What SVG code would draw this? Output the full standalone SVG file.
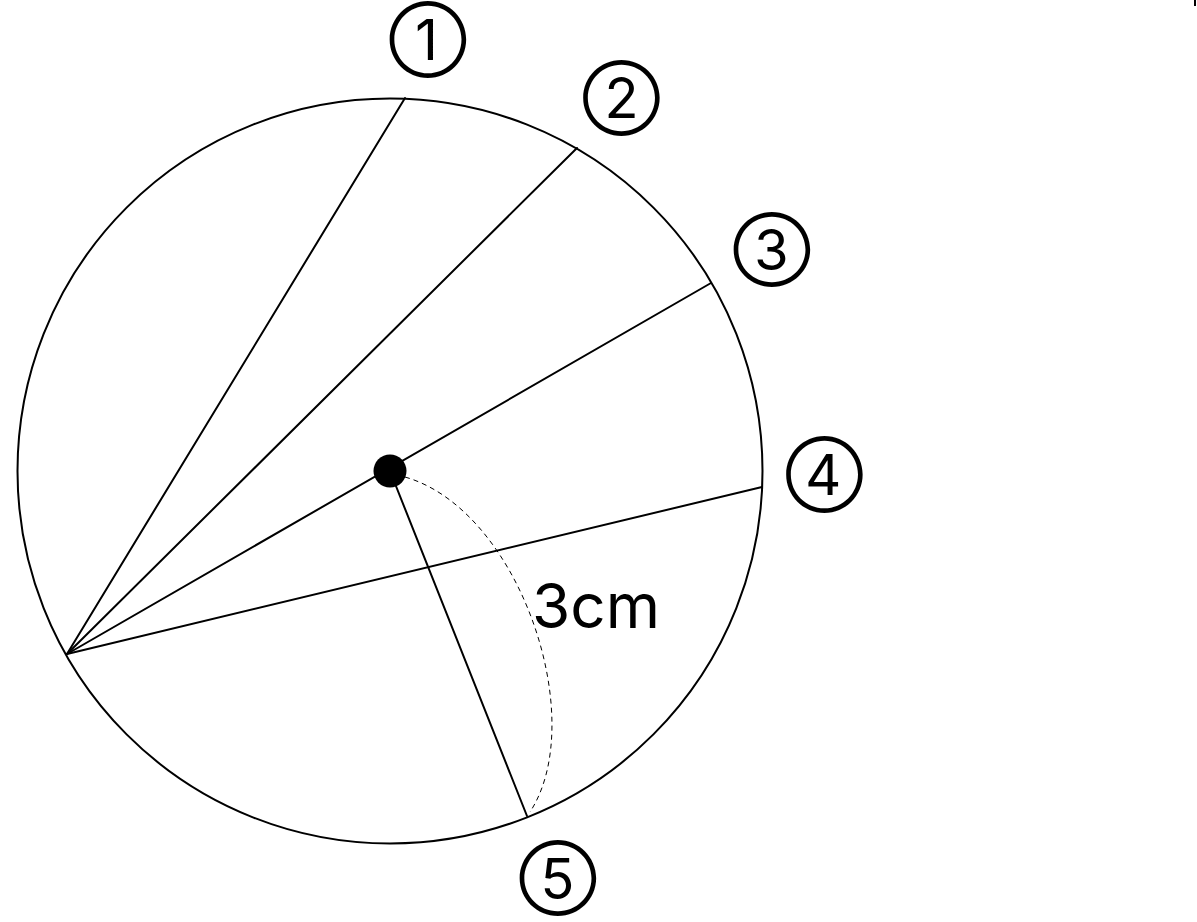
<svg xmlns="http://www.w3.org/2000/svg" width="1197" height="922" viewBox="0 0 1197 922">
<style>
.ln{stroke:#000;stroke-width:2;fill:none;stroke-linecap:round}
.num{font-family:Inter,"Noto Sans CJK JP",sans-serif;font-size:56px;fill:#000;text-anchor:middle}
.lbl{font-family:Inter,"Liberation Sans",sans-serif;font-size:62px;fill:#000}
</style>
<rect width="1197" height="922" fill="#fff"/>
<g id="circle"><circle cx="390" cy="471" r="372.5" class="ln"/></g>
<g id="connectors">
<line x1="67" y1="654" x2="405" y2="98" class="ln"/>
<line x1="67" y1="654" x2="577" y2="148" class="ln"/>
<line x1="67" y1="654" x2="711" y2="283" class="ln"/>
<line x1="67" y1="654" x2="762" y2="487" class="ln"/>
<line x1="390" y1="471" x2="527" y2="816" class="ln"/>
<path d="M405 477 C520 510 590 720 530 812" fill="none" stroke="#000" stroke-width="1" stroke-dasharray="5 4"/>
</g>
<g id="center"><circle cx="390" cy="471" r="16.5" fill="#000"/></g>
<g id="label-3cm"><text x="532" y="628" class="lbl">3cm</text></g>
<g id="n1"><text x="428" y="60" class="num">①</text></g>
<g id="n2"><text x="621.5" y="117.5" class="num">②</text></g>
<g id="n3"><text x="772" y="270" class="num">③</text></g>
<g id="n4"><text x="824.5" y="494.5" class="num">④</text></g>
<g id="n5"><text x="558" y="899" class="num">⑤</text></g>
<g id="mark"><rect x="1194" y="0" width="2" height="6" fill="#000"/></g>
</svg>
